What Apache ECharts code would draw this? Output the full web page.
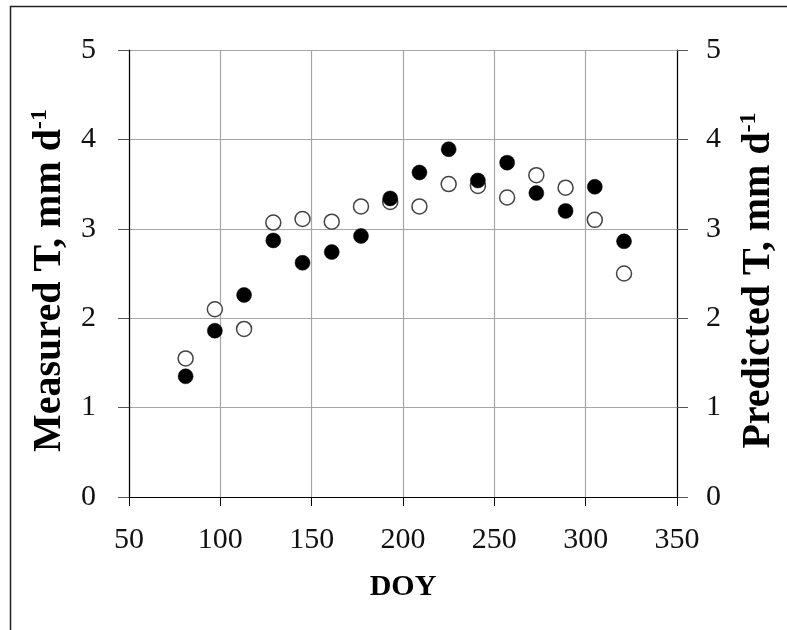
<!DOCTYPE html>
<html>
<head>
<meta charset="utf-8">
<script src="https://cdn.jsdelivr.net/npm/echarts@6/dist/echarts.min.js"></script>
<style>
  html, body { margin: 0; padding: 0; background: #fff; }
  #chart { width: 787px; height: 630px; }
</style>
</head>
<body>
<div id="chart"></div>
<script>
// day of year (16-day periods)
var doy = [81, 97, 113, 129, 145, 161, 177, 193, 209, 225, 241, 257, 273, 289, 305, 321];
// measured T, mm/d (filled)
var measured = [1.35, 1.86, 2.26, 2.87, 2.62, 2.74, 2.92, 3.34, 3.63, 3.89, 3.54, 3.74, 3.40, 3.20, 3.47, 2.86];
// predicted T, mm/d (open)
var predicted = [1.55, 2.10, 1.88, 3.07, 3.11, 3.08, 3.25, 3.30, 3.25, 3.50, 3.48, 3.35, 3.60, 3.46, 3.10, 2.50];

var xTicks = [50, 100, 150, 200, 250, 300, 350];
var yTicks = [0, 1, 2, 3, 4, 5];

function pairs(xs, ys) {
  var out = [];
  for (var i = 0; i < xs.length; i++) out.push([xs[i], ys[i]]);
  return out;
}

var serif = '"Liberation Serif", "Times New Roman", serif';
var tickFont = { fontFamily: serif, fontSize: 30, color: '#111' };
var nameRich = {
  a: { fontFamily: serif, fontSize: 40, fontWeight: 'bold', color: '#000', lineHeight: 44 },
  b: { fontFamily: serif, fontSize: 24, fontWeight: 'bold', color: '#000', lineHeight: 44, verticalAlign: 'top' }
};

function yAxis(label, pos, margin, gap) {
  return {
    type: 'value',
    position: pos,
    min: yTicks[0],
    max: yTicks[yTicks.length - 1],
    interval: 1,
    name: '{a|' + label + '}{b|-1}',
    nameLocation: 'middle',
    nameRotate: 90,
    nameGap: gap,
    nameTextStyle: { rich: nameRich, padding: [0, 14, 0, 0] },
    axisLine: { show: true, lineStyle: { color: '#000', width: 1.2 } },
    axisTick: { show: true, inside: false, length: 11, lineStyle: { color: '#555' } },
    axisLabel: Object.assign({ margin: margin }, tickFont),
    splitLine: { show: pos === 'left', lineStyle: { color: '#a6a6a6', width: 1.2 } }
  };
}

var chart = echarts.init(document.getElementById('chart'));
chart.setOption({
  animation: false,
  backgroundColor: '#fff',
  grid: { left: 129, right: 103, top: 50, bottom: 133, containLabel: false },
  graphic: [{
    type: 'rect',
    shape: { x: 10.5, y: 6.5, width: 900, height: 800 },
    style: { fill: 'none', stroke: '#222', lineWidth: 1.5 },
    silent: true
  }],
  xAxis: {
    type: 'value',
    min: xTicks[0],
    max: xTicks[xTicks.length - 1],
    interval: 50,
    name: 'DOY',
    nameLocation: 'middle',
    nameGap: 75,
    nameTextStyle: { fontFamily: serif, fontSize: 30, fontWeight: 'bold', color: '#000' },
    axisLine: { show: true, onZero: false, lineStyle: { color: '#000', width: 1.2 } },
    axisTick: { show: true, inside: false, length: 9, lineStyle: { color: '#000' } },
    axisLabel: Object.assign({ margin: 28 }, tickFont),
    splitLine: { show: true, lineStyle: { color: '#a6a6a6', width: 1.2 } }
  },
  yAxis: [
    yAxis('Measured T, mm d', 'left', 33, 53),
    yAxis('Predicted T, mm d', 'right', 29, 60)
  ],
  series: [
    {
      name: 'Predicted',
      type: 'scatter',
      yAxisIndex: 0,
      symbol: 'circle',
      symbolSize: 15,
      itemStyle: { color: '#fff', borderColor: '#444', borderWidth: 1.5, opacity: 1 },
      data: pairs(doy, predicted),
      z: 2
    },
    {
      name: 'Measured',
      type: 'scatter',
      yAxisIndex: 0,
      symbol: 'circle',
      symbolSize: 15,
      itemStyle: { color: '#000', borderColor: '#000', borderWidth: 0.5, opacity: 1 },
      data: pairs(doy, measured),
      z: 3
    }
  ]
});
</script>
</body>
</html>
